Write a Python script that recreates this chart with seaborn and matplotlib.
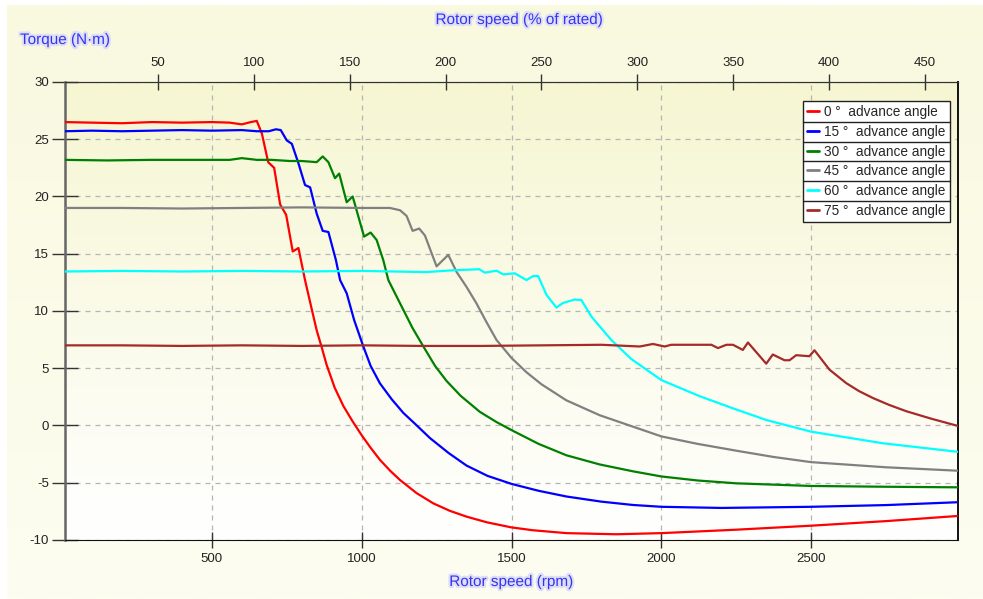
import numpy as np
import pandas as pd
import seaborn as sns
import matplotlib.pyplot as plt
import matplotlib.patheffects as pe
from matplotlib.lines import Line2D
from matplotlib.colors import LinearSegmentedColormap

# advance angles and their colours
angles = [0, 15, 30, 45, 60, 75]
colors = ['#ff0000', '#0000ff', '#008000', '#808080', '#00ffff', '#a52a2a']

rated_rpm = 640.0

rpm_0 = [10, 100, 200, 300, 400, 500, 560, 600, 630, 650, 667, 688, 708, 728, 748, 770,
         789, 811, 833, 850, 867, 883, 910, 939, 970, 1000, 1030, 1061, 1095, 1128, 1183,
         1239, 1294, 1350, 1417, 1500, 1572, 1683, 1850, 2000, 2250, 2500, 2750, 2990]
torque_0 = [26.5, 26.45, 26.4, 26.5, 26.45, 26.5, 26.45, 26.3, 26.5, 26.6, 25.5, 23.0,
            22.5, 19.3, 18.4, 15.2, 15.5, 12.7, 10.2, 8.3, 6.8, 5.3, 3.3, 1.7, 0.35,
            -0.85, -1.95, -3.0, -3.95, -4.76, -5.9, -6.8, -7.45, -7.96, -8.45, -8.9,
            -9.15, -9.4, -9.5, -9.4, -9.1, -8.75, -8.35, -7.9]

rpm_15 = [10, 100, 200, 300, 400, 500, 600, 650, 690, 714, 730, 750, 767, 789, 811, 828,
          850, 870, 889, 914, 928, 950, 975, 1005, 1030, 1061, 1100, 1139, 1180, 1228,
          1290, 1350, 1420, 1500, 1590, 1683, 1800, 1905, 2000, 2200, 2500, 2750, 2990]
torque_15 = [25.7, 25.75, 25.7, 25.75, 25.8, 25.75, 25.8, 25.7, 25.7, 25.87, 25.8, 24.9,
             24.6, 22.9, 21.0, 20.8, 18.5, 17.0, 16.9, 14.45, 12.7, 11.55, 9.2, 6.94,
             5.2, 3.68, 2.3, 1.1, 0.1, -1.1, -2.4, -3.5, -4.4, -5.1, -5.7, -6.2, -6.65,
             -6.94, -7.1, -7.2, -7.1, -6.95, -6.7]

rpm_30 = [10, 150, 300, 450, 560, 600, 650, 700, 760, 800, 850, 870, 889, 911, 925, 950,
          970, 1008, 1030, 1050, 1072, 1089, 1139, 1170, 1205, 1245, 1283, 1330, 1394,
          1450, 1500, 1590, 1683, 1794, 1905, 2000, 2120, 2250, 2500, 2750, 2990]
torque_30 = [23.2, 23.15, 23.2, 23.2, 23.2, 23.35, 23.2, 23.2, 23.1, 23.1, 23.0, 23.5,
             23.0, 21.6, 22.0, 19.5, 20.0, 16.5, 16.85, 16.2, 14.45, 12.7, 10.1, 8.5,
             6.94, 5.2, 3.9, 2.6, 1.2, 0.3, -0.4, -1.6, -2.6, -3.4, -4.0, -4.45, -4.8,
             -5.05, -5.28, -5.35, -5.4]

rpm_45 = [10, 200, 400, 600, 800, 1000, 1094, 1128, 1150, 1170, 1192, 1211, 1250, 1289,
          1317, 1350, 1383, 1415, 1450, 1500, 1550, 1600, 1683, 1794, 1894, 2000, 2120,
          2250, 2375, 2500, 2750, 2990]
torque_45 = [19.0, 19.0, 18.95, 19.0, 19.05, 19.0, 19.0, 18.8, 18.3, 17.0, 17.2, 16.6,
             13.9, 14.9, 13.4, 12.1, 10.67, 9.1, 7.47, 5.9, 4.65, 3.6, 2.2, 0.9, 0.0,
             -0.95, -1.6, -2.2, -2.75, -3.2, -3.65, -3.95]

rpm_60 = [10, 200, 400, 600, 800, 1000, 1217, 1300, 1392, 1411, 1450, 1472, 1511, 1550,
          1572, 1589, 1617, 1650, 1672, 1711, 1733, 1767, 1833, 1900, 2000, 2128, 2239,
          2350, 2500, 2739, 2990]
torque_60 = [13.45, 13.5, 13.45, 13.5, 13.45, 13.5, 13.4, 13.55, 13.65, 13.35, 13.52,
             13.2, 13.29, 12.7, 13.05, 13.05, 11.4, 10.3, 10.7, 11.0, 10.96, 9.5, 7.47,
             5.8, 3.97, 2.56, 1.5, 0.48, -0.54, -1.55, -2.3]

rpm_75 = [10, 200, 400, 600, 800, 1000, 1200, 1400, 1600, 1800, 1928, 1972, 2011, 2033,
          2100, 2167, 2189, 2217, 2239, 2272, 2289, 2350, 2372, 2411, 2428, 2450, 2494,
          2511, 2561, 2617, 2660, 2706, 2760, 2817, 2900, 2990]
torque_75 = [7.0, 7.0, 6.95, 7.0, 6.95, 7.0, 6.95, 6.95, 7.0, 7.05, 6.9, 7.12, 6.9, 7.05,
             7.05, 7.05, 6.76, 7.05, 7.05, 6.6, 7.25, 5.4, 6.2, 5.7, 5.7, 6.14, 6.05,
             6.57, 4.88, 3.7, 3.0, 2.4, 1.8, 1.25, 0.6, -0.04]

y_ticks = [-10, -5, 0, 5, 10, 15, 20, 25, 30]
x_ticks = [500, 1000, 1500, 2000, 2500]
pct_ticks = [50, 100, 150, 200, 250, 300, 350, 400, 450]

speeds = [rpm_0, rpm_15, rpm_30, rpm_45, rpm_60, rpm_75]
torques = [torque_0, torque_15, torque_30, torque_45, torque_60, torque_75]
labels = [f'{a} °  advance angle' for a in angles]

frames = []
for lab, x, y in zip(labels, speeds, torques):
    frames.append(pd.DataFrame({'rpm': x, 'torque': y, 'curve': lab}))
df = pd.concat(frames, ignore_index=True)

sns.set_style('white')
plt.rcParams['font.family'] = ['Liberation Sans', 'DejaVu Sans']
plt.rcParams['axes.unicode_minus'] = False

W, H = 983, 599
fig = plt.figure(figsize=(W / 100, H / 100), dpi=100)
fig.patch.set_facecolor('white')

# soft yellow panel behind everything
bg = fig.add_axes([7 / W, 0, 1 - 7 / W, 1 - 5 / H], zorder=-10)
bg_cmap = LinearSegmentedColormap.from_list('bg', ['#f9f9e0', '#fdfdf1'])
bg.imshow(np.linspace(0, 1, 256).reshape(-1, 1), cmap=bg_cmap, aspect='auto',
          extent=[0, 1, 0, 1])
bg.axis('off')

ax = fig.add_axes([65 / W, 1 - 540 / H, (958 - 65) / W, (540 - 82) / H])
plot_cmap = LinearSegmentedColormap.from_list('pl', ['#ffffff', '#f6f6d2'])
ax.imshow(np.linspace(0, 1, 256).reshape(-1, 1), cmap=plot_cmap, aspect='auto',
          extent=[0, 1, 1, 0], transform=ax.transAxes, zorder=0)

sns.lineplot(data=df, x='rpm', y='torque', hue='curve', hue_order=labels,
             palette=dict(zip(labels, colors)), sort=False, estimator=None,
             linewidth=1.6, ax=ax, zorder=3)

ax.set_xlim(10, 2990)
ax.set_ylim(-10, 30)
ax.set_xticks(x_ticks)
ax.set_yticks(y_ticks)
ax.set_xlabel('')
ax.set_ylabel('')
ax.grid(True, linestyle=(0, (4, 4)), color='#b5b5b5', linewidth=0.9, zorder=1)
ax.set_axisbelow(True)

ax.tick_params(axis='x', direction='inout', length=12, width=1, color='#333333',
               labelsize=9.5, labelcolor='#222222', pad=3, bottom=True)
ax.tick_params(axis='y', direction='inout', length=19, width=1, color='#333333',
               labelsize=9.5, labelcolor='#222222', pad=2, left=True)

for side in ['left', 'bottom', 'top', 'right']:
    ax.spines[side].set_visible(True)
ax.spines['left'].set_color('#666666')
ax.spines['left'].set_linewidth(1.8)
ax.spines['bottom'].set_color('#111111')
ax.spines['top'].set_color('#333333')
ax.spines['right'].set_color('#111111')
ax.spines['right'].set_linewidth(1.4)

sec = ax.secondary_xaxis('top', functions=(lambda r: r / rated_rpm * 100,
                                           lambda p: p * rated_rpm / 100))
sec.set_xticks(pct_ticks)
sec.tick_params(direction='inout', length=12, width=1, color='#333333',
                labelsize=9.5, labelcolor='#222222', pad=3)
sec.spines['top'].set_color('#333333')

blue = '#3434f0'
glow = [pe.withStroke(linewidth=3, foreground='#dedef6')]
fig.text(519 / W, 1 - 20 / H, 'Rotor speed (% of rated)', color=blue, fontsize=11,
         ha='center', va='center', path_effects=glow)
fig.text(511 / W, 1 - 582 / H, 'Rotor speed (rpm)', color=blue, fontsize=11,
         ha='center', va='center', path_effects=glow)
fig.text(20 / W, 1 - 40 / H, 'Torque (N·m)', color=blue, fontsize=11,
         ha='left', va='center', path_effects=glow)

handles, labs = ax.get_legend_handles_labels()
leg = ax.legend(handles, labs, loc='upper right', bbox_to_anchor=(0.991, 0.9585),
                borderaxespad=0, fontsize=9.8, handlelength=0.9, handletextpad=0.4,
                labelspacing=0.42, borderpad=0.3, fancybox=False, framealpha=1,
                facecolor='white', edgecolor='#222222')
leg.get_frame().set_linewidth(1.0)
for h in leg.get_lines():
    h.set_linewidth(2)
leg.set_zorder(5)

# row separators inside the legend box
fig.canvas.draw()
box = leg.get_window_extent()
texts = leg.get_texts()
inv = fig.transFigure.inverted()
for t1, t2 in zip(texts[:-1], texts[1:]):
    b1 = t1.get_window_extent()
    b2 = t2.get_window_extent()
    ymid = (b1.y0 + b2.y1) / 2
    (fx0, fy), (fx1, _) = inv.transform([(box.x0, ymid), (box.x1, ymid)])
    fig.add_artist(Line2D([fx0, fx1], [fy, fy], color='#222222', linewidth=1.0,
                          zorder=6))

fig.savefig('out.png', dpi=100)
